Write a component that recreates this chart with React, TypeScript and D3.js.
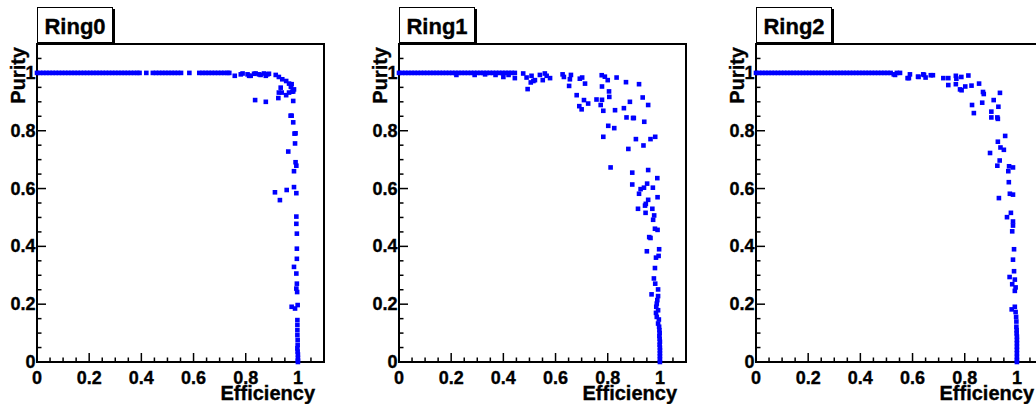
import React from 'react';
import * as d3 from 'd3';

const ringNames = ['Ring0', 'Ring1', 'Ring2'];
const tickValues = [0, 0.2, 0.4, 0.6, 0.8, 1];
const tickLabels = ['0', '0.2', '0.4', '0.6', '0.8', '1'];
const xTitle = 'Efficiency';
const yTitle = 'Purity';

// Efficiency values of points sitting on purity = 1
const ring0Plateau = [0.000, 0.012, 0.024, 0.036, 0.048, 0.060, 0.072, 0.084, 0.096, 0.108, 0.120, 0.132, 0.144, 0.156, 0.168, 0.180, 0.192, 0.204, 0.216, 0.228, 0.240, 0.252, 0.264, 0.276, 0.288, 0.300, 0.312, 0.324, 0.336, 0.348, 0.360, 0.372, 0.384, 0.393, 0.419, 0.444, 0.456, 0.468, 0.480, 0.492, 0.504, 0.516, 0.528, 0.540, 0.552, 0.584, 0.622, 0.634, 0.646, 0.658, 0.670, 0.682, 0.694, 0.706, 0.718, 0.730, 0.737];
const ring1Plateau = [0.000, 0.012, 0.024, 0.036, 0.048, 0.060, 0.072, 0.084, 0.096, 0.108, 0.120, 0.132, 0.144, 0.156, 0.168, 0.180, 0.192, 0.204, 0.216, 0.228, 0.240, 0.252, 0.264, 0.276, 0.288, 0.300, 0.312, 0.324, 0.336, 0.348, 0.360, 0.372, 0.384, 0.396, 0.408, 0.420, 0.432, 0.444];
const ring2Plateau = [0.000, 0.012, 0.024, 0.036, 0.048, 0.060, 0.072, 0.084, 0.096, 0.108, 0.120, 0.132, 0.144, 0.156, 0.168, 0.180, 0.192, 0.204, 0.216, 0.228, 0.240, 0.252, 0.264, 0.276, 0.288, 0.300, 0.312, 0.324, 0.336, 0.348, 0.360, 0.372, 0.384, 0.396, 0.408, 0.420, 0.432, 0.444, 0.456, 0.468, 0.480, 0.492, 0.504, 0.516, 0.540, 0.552];

// [efficiency, purity] of the remaining points
const ring0Points: [number, number][] = [
  [0.758, 0.99], [0.781, 0.995], [0.788, 0.998], [0.807, 0.995], [0.813, 0.99], [0.819, 0.99], [0.832, 0.997], [0.838, 0.998],
  [0.851, 0.995], [0.857, 0.993], [0.870, 0.998], [0.877, 0.99], [0.883, 0.995], [0.889, 0.997],
  [0.915, 0.993], [0.927, 0.986], [0.940, 0.978], [0.955, 0.972], [0.966, 0.963], [0.973, 0.952],
  [0.836, 0.906], [0.877, 0.9],
  [0.925, 0.913], [0.934, 0.949], [0.938, 0.932], [0.927, 0.932], [0.955, 0.923], [0.966, 0.932], [0.976, 0.961],
  [0.978, 0.935], [0.982, 0.936], [0.985, 0.943], [0.982, 0.903],
  [0.972, 0.852], [0.976, 0.852], [0.982, 0.829], [0.987, 0.79], [0.991, 0.791], [0.989, 0.756], [0.963, 0.728],
  [0.991, 0.691], [0.994, 0.679], [0.985, 0.66],
  [0.985, 0.605], [0.994, 0.584], [0.912, 0.587], [0.931, 0.56], [0.957, 0.595],
  [0.994, 0.503], [0.994, 0.478], [0.996, 0.444], [0.996, 0.392], [0.996, 0.357], [0.985, 0.329], [0.994, 0.306],
  [0.996, 0.271], [0.994, 0.254], [0.997, 0.242],
  [0.976, 0.191], [0.989, 0.185], [0.999, 0.197], [0.998, 0.145], [0.998, 0.128], [0.998, 0.11], [0.998, 0.093],
  [0.999, 0.076], [0.999, 0.059], [0.998, 0.047], [0.999, 0.036], [1.0, 0.026], [1.0, 0.014], [1.0, 0.005], [1.0, 0.0]
];

const ring1Points: [number, number][] = [
  [0.22, 0.993], [0.29, 0.993], [0.33, 0.995], [0.37, 0.993], [0.400, 0.986], [0.420, 0.993], [0.444, 0.982],
  [0.476, 0.998], [0.489, 0.984], [0.508, 0.99], [0.521, 0.975], [0.515, 0.972], [0.493, 0.944], [0.505, 0.967],
  [0.54, 0.993], [0.551, 0.975], [0.559, 0.998], [0.566, 0.99], [0.579, 0.982],
  [0.627, 0.995], [0.632, 0.986], [0.659, 0.993], [0.655, 0.978], [0.652, 0.955], [0.693, 0.98], [0.702, 0.984],
  [0.713, 0.963], [0.681, 0.923], [0.709, 0.906], [0.725, 0.894], [0.691, 0.885], [0.700, 0.874],
  [0.777, 0.992], [0.789, 0.987], [0.800, 0.975], [0.834, 0.984], [0.778, 0.953], [0.805, 0.936], [0.806, 0.917],
  [0.757, 0.908], [0.778, 0.907], [0.773, 0.889], [0.783, 0.869], [0.870, 0.968], [0.920, 0.961], [0.828, 0.871],
  [0.862, 0.878], [0.885, 0.9], [0.934, 0.915], [0.955, 0.889], [0.872, 0.846], [0.897, 0.844], [0.900, 0.844],
  [0.940, 0.831], [0.802, 0.817], [0.825, 0.809], [0.783, 0.779], [0.908, 0.771], [0.964, 0.771], [0.982, 0.779],
  [0.879, 0.737], [0.937, 0.749], [0.811, 0.673], [0.894, 0.655], [0.955, 0.664], [0.990, 0.636], [0.894, 0.614],
  [0.951, 0.617], [0.939, 0.603], [0.926, 0.598], [0.973, 0.603],
  [0.920, 0.582], [0.991, 0.570], [0.955, 0.561], [0.946, 0.547], [0.943, 0.541], [0.916, 0.530], [0.971, 0.530],
  [0.945, 0.516], [0.978, 0.507], [0.974, 0.492], [0.981, 0.461], [0.991, 0.457], [0.959, 0.432], [0.964, 0.429],
  [0.997, 0.390], [0.950, 0.383], [0.985, 0.361], [0.995, 0.367], [0.981, 0.325], [0.977, 0.289], [0.982, 0.271],
  [0.993, 0.251], [0.968, 0.234],
  [0.993, 0.228], [0.99, 0.214], [0.988, 0.202], [0.986, 0.191], [0.993, 0.179], [0.985, 0.170], [0.988, 0.156],
  [0.996, 0.147], [0.993, 0.133],
  [0.997, 0.122], [0.998, 0.11], [0.999, 0.10], [0.998, 0.09], [0.999, 0.08], [1.0, 0.07], [0.999, 0.06],
  [1.0, 0.05], [1.0, 0.04], [1.0, 0.03], [1.0, 0.02], [1.0, 0.01], [1.0, 0.0]
];

const ring2Points: [number, number][] = [
  [0.528, 0.995], [0.533, 0.993], [0.581, 0.982], [0.586, 0.982], [0.590, 0.995], [0.621, 0.987], [0.623, 0.986],
  [0.641, 0.995], [0.644, 0.993], [0.650, 0.984], [0.670, 0.992], [0.678, 0.992], [0.718, 0.982], [0.737, 0.982],
  [0.766, 0.99], [0.768, 0.98], [0.787, 0.986], [0.814, 0.991], [0.737, 0.958], [0.766, 0.961], [0.782, 0.943],
  [0.788, 0.94], [0.802, 0.953], [0.826, 0.956], [0.855, 0.963], [0.870, 0.934], [0.873, 0.927], [0.935, 0.931],
  [0.828, 0.889], [0.867, 0.897], [0.835, 0.861], [0.911, 0.906], [0.929, 0.883], [0.902, 0.866], [0.902, 0.846],
  [0.925, 0.846], [0.927, 0.841], [0.955, 0.782], [0.927, 0.762], [0.937, 0.742], [0.950, 0.734], [0.897, 0.723],
  [0.934, 0.697], [0.925, 0.679], [0.970, 0.677], [0.985, 0.673], [0.967, 0.660], [0.969, 0.622],
  [0.931, 0.567], [0.973, 0.582], [0.985, 0.579], [0.962, 0.501], [0.977, 0.516], [0.985, 0.486], [0.985, 0.472],
  [0.982, 0.452], [0.989, 0.390], [0.985, 0.354], [0.989, 0.314], [0.972, 0.294], [0.992, 0.285], [0.982, 0.269],
  [0.995, 0.258], [0.992, 0.246], [0.980, 0.182], [0.992, 0.191], [0.995, 0.173], [0.997, 0.156], [0.998, 0.14],
  [0.998, 0.122], [0.999, 0.11], [0.999, 0.099], [1.0, 0.088], [1.0, 0.076], [1.0, 0.065], [1.0, 0.053],
  [1.0, 0.042], [1.0, 0.030], [1.0, 0.018], [1.0, 0.007], [1.0, 0.0]
];

const plateaus = [ring0Plateau, ring1Plateau, ring2Plateau];
const scatters = [ring0Points, ring1Points, ring2Points];

const W = 1036;
const H = 404;
const panelLefts = [37, 399, 756];
const frameW = 287;
const frameTop = 44;
const frameBottom = 362;
const FONT = '"Liberation Sans", Arial, Helvetica, sans-serif';
const BLUE = '#0000ff';
const MS = 4.6;
const TXT_STROKE = 0.35;

function Panel({ idx }: { idx: number }) {
  const left = panelLefts[idx];
  const x = d3.scaleLinear().domain([0, 1.1]).range([left, left + frameW]);
  const y = d3.scaleLinear().domain([0, 1.1]).range([frameBottom, frameTop]);
  const minor = d3.range(0, 1.1001, 0.05).filter((v) => Math.abs(v * 5 - Math.round(v * 5)) > 1e-6);
  const pts: [number, number][] = [
    ...plateaus[idx].map((e) => [e, 1.0] as [number, number]),
    ...scatters[idx],
  ];
  const right = left + frameW;
  const textProps = { fontFamily: FONT, fontWeight: 'bold' as const, fill: '#000', stroke: '#000', strokeWidth: TXT_STROKE };
  return (
    <g>
      <rect x={left} y={frameTop} width={frameW} height={frameBottom - frameTop} fill="none" stroke="#000" strokeWidth={2} />
      {tickValues.map((v) => (
        <line key={'xM' + v} x1={x(v)} x2={x(v)} y1={frameBottom} y2={frameBottom - 9} stroke="#000" strokeWidth={1.5} />
      ))}
      {minor.map((v) => (
        <line key={'xm' + v} x1={x(v)} x2={x(v)} y1={frameBottom} y2={frameBottom - 4.5} stroke="#000" strokeWidth={1.5} />
      ))}
      {tickValues.map((v) => (
        <line key={'yM' + v} x1={left} x2={left + 9} y1={y(v)} y2={y(v)} stroke="#000" strokeWidth={1.5} />
      ))}
      {minor.map((v) => (
        <line key={'ym' + v} x1={left} x2={left + 4.5} y1={y(v)} y2={y(v)} stroke="#000" strokeWidth={1.5} />
      ))}
      {pts.map((p, k) => (
        <rect key={'p' + k} x={x(p[0]) - MS / 2} y={y(p[1]) - MS / 2} width={MS} height={MS} fill={BLUE} />
      ))}
      {tickValues.map((v, k) => (
        <text key={'xl' + v} x={x(v)} y={frameBottom + 21.5} textAnchor="middle" fontSize={18} {...textProps}>
          {tickLabels[k]}
        </text>
      ))}
      {tickValues.map((v, k) => (
        <text key={'yl' + v} x={left - 1.5} y={y(v) + 6} textAnchor="end" fontSize={18} {...textProps}>
          {tickLabels[k]}
        </text>
      ))}
      <text x={right - 9} y={400} textAnchor="end" fontSize={20} {...textProps}>
        {xTitle}
      </text>
      <text transform={`translate(${left - 12},${frameTop + 3}) rotate(-90)`} textAnchor="end" fontSize={20} {...textProps}>
        {yTitle}
      </text>
      <rect x={left + 2} y={9} width={76} height={36} fill="#000" />
      <rect x={left + 0.5} y={7.5} width={75} height={35} fill="#fff" stroke="#000" strokeWidth={1} />
      <text x={left + 38} y={33.5} textAnchor="middle" fontSize={22} {...textProps}>
        {ringNames[idx]}
      </text>
    </g>
  );
}

export default function App() {
  return (
    <svg width={W} height={H} style={{ position: 'absolute', left: 0, top: 0, background: '#fff' }}>
      <rect x={0} y={0} width={W} height={H} fill="#fff" />
      {ringNames.map((_, i) => (
        <Panel key={i} idx={i} />
      ))}
    </svg>
  );
}
